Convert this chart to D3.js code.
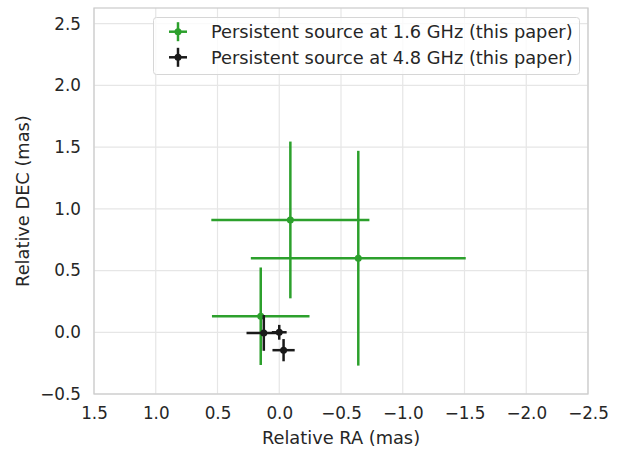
<!DOCTYPE html>
<html>
<head>
<meta charset="utf-8">
<script src="https://cdn.jsdelivr.net/npm/d3@7"></script>
<style>
  body { margin: 0; background: #fff; }
  text { font-family: "DejaVu Sans", sans-serif; fill: #262626; }
</style>
</head>
<body>
<svg id="chart"></svg>
<script>
// 1.6 GHz persistent source positions (mas)
const ra16 = [-0.09, -0.64, 0.15]
const dec16 = [0.91, 0.60, 0.13]
const raErr16 = [0.64, 0.87, 0.395]
const decErr16 = [0.635, 0.87, 0.395]

// 4.8 GHz
const ra48 = [0.125, 0.0, -0.035]
const dec48 = [-0.005, 0.0, -0.145]
const raErr48 = [0.14, 0.06, 0.09]
const decErr48 = [0.145, 0.06, 0.09]

const xTicks = [1.5, 1.0, 0.5, 0.0, -0.5, -1.0, -1.5, -2.0, -2.5]
const yTicks = [-0.5, 0.0, 0.5, 1.0, 1.5, 2.0, 2.5]
const legendLabels = ['Persistent source at 1.6 GHz (this paper)', 'Persistent source at 4.8 GHz (this paper)']
const colors = ['#2ca02c', '#1a1a1a']

const width = 622, height = 449
const margin = { left: 94, right: 34, top: 8, bottom: 55 }

const svg = d3.select('#chart')
    .attr('width', width)
    .attr('height', height)

const x = d3.scaleLinear().domain([1.5, -2.5]).range([margin.left, width - margin.right])
const y = d3.scaleLinear().domain([-0.5, 2.627]).range([height - margin.bottom, margin.top])

// grid
const grid = svg.append('g')
grid.selectAll('.gx').data(xTicks).enter().append('line')
    .attr('x1', d => x(d)).attr('x2', d => x(d))
    .attr('y1', y.range()[0]).attr('y2', y.range()[1])
    .attr('stroke', '#e6e6e6').attr('stroke-width', 1.2)
grid.selectAll('.gy').data(yTicks).enter().append('line')
    .attr('y1', d => y(d)).attr('y2', d => y(d))
    .attr('x1', x.range()[0]).attr('x2', x.range()[1])
    .attr('stroke', '#e6e6e6').attr('stroke-width', 1.2)

// axes
const fmt = d3.format('.1f')
const xAxis = svg.append('g')
    .attr('transform', `translate(0,${height - margin.bottom})`)
    .call(d3.axisBottom(x).tickValues(xTicks).tickFormat(fmt).tickSize(0).tickPadding(13))
const yAxis = svg.append('g')
    .attr('transform', `translate(${margin.left},0)`)
    .call(d3.axisLeft(y).tickValues(yTicks).tickFormat(fmt).tickSize(0).tickPadding(13))
xAxis.select('.domain').remove()
yAxis.select('.domain').remove()
svg.selectAll('.tick text').attr('font-size', 16.8).attr('fill', '#262626')

// frame
svg.append('rect')
    .attr('x', margin.left).attr('y', margin.top)
    .attr('width', width - margin.left - margin.right)
    .attr('height', height - margin.top - margin.bottom)
    .attr('fill', 'none').attr('stroke', '#cccccc').attr('stroke-width', 1.25)

// labels
svg.append('text')
    .attr('x', x(-0.5) ).attr('y', 444)
    .attr('text-anchor', 'middle').attr('font-size', 17.8)
    .text('Relative RA (mas)')
svg.append('text')
    .attr('transform', `translate(29,${y(1.063)}) rotate(-90)`)
    .attr('text-anchor', 'middle').attr('font-size', 17.8)
    .text('Relative DEC (mas)')

function drawSeries(ra, dec, raErr, decErr, color) {
    const g = svg.append('g')
    const pts = ra.map((v, i) => ({ x: v, y: dec[i], ex: raErr[i], ey: decErr[i] }))
    g.selectAll('.h').data(pts).enter().append('line')
        .attr('x1', d => x(d.x - d.ex)).attr('x2', d => x(d.x + d.ex))
        .attr('y1', d => y(d.y)).attr('y2', d => y(d.y))
        .attr('stroke', color).attr('stroke-width', 2.5)
    g.selectAll('.v').data(pts).enter().append('line')
        .attr('x1', d => x(d.x)).attr('x2', d => x(d.x))
        .attr('y1', d => y(d.y - d.ey)).attr('y2', d => y(d.y + d.ey))
        .attr('stroke', color).attr('stroke-width', 2.5)
    g.selectAll('circle').data(pts).enter().append('circle')
        .attr('cx', d => x(d.x)).attr('cy', d => y(d.y))
        .attr('r', 3.5).attr('fill', color)
}

drawSeries(ra16, dec16, raErr16, decErr16, colors[0])
drawSeries(ra48, dec48, raErr48, decErr48, colors[1])

// legend
const legend = svg.append('g')
legend.append('rect')
    .attr('x', 153.5).attr('y', 17.5).attr('width', 426).attr('height', 57).attr('rx', 3)
    .attr('fill', '#fff').attr('fill-opacity', 0.8)
    .attr('stroke', '#d6d6d6').attr('stroke-width', 1)
legendLabels.forEach((lab, i) => {
    const cy = 31.7 + i * 25.6
    const cx = 178
    legend.append('line').attr('x1', cx - 9).attr('x2', cx + 9).attr('y1', cy).attr('y2', cy)
        .attr('stroke', colors[i]).attr('stroke-width', 2.5)
    legend.append('line').attr('x1', cx).attr('x2', cx).attr('y1', cy - 9.5).attr('y2', cy + 9.5)
        .attr('stroke', colors[i]).attr('stroke-width', 2.5)
    legend.append('circle').attr('cx', cx).attr('cy', cy).attr('r', 3.5).attr('fill', colors[i])
    legend.append('text').attr('x', 211).attr('y', cy + 6.5)
        .attr('font-size', 17.8).text(lab)
})
</script>
</body>
</html>
